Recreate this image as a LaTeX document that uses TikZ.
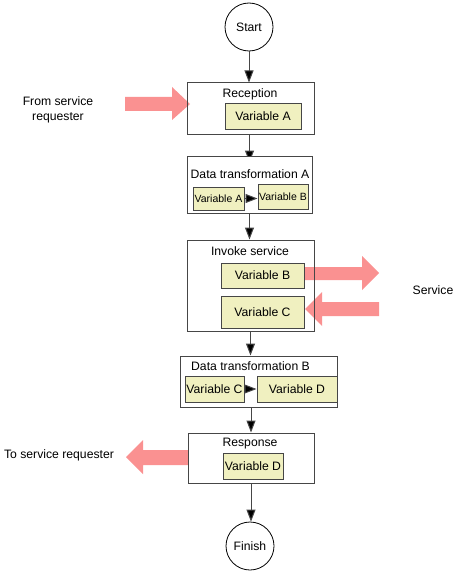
\documentclass[tikz,border=0pt]{standalone}
\usepackage{fontspec}
\setmainfont{Liberation Sans}
\usetikzlibrary{arrows.meta,backgrounds}
\definecolor{pinkarrow}{RGB}{250,145,145}
\definecolor{varfill}{RGB}{240,240,192}
\definecolor{linegray}{RGB}{70,70,70}
\tikzset{
  every node/.style={font=\fontsize{12.2}{14}\selectfont, inner sep=0pt},
  outerbox/.style={draw=linegray, line width=1pt, fill=white},
  varbox/.style={draw=linegray, line width=1pt, fill=varfill},
  smallvar/.style={varbox, font=\fontsize{10.5}{12}\selectfont},
  termcircle/.style={circle, draw=black, line width=0.8pt, fill=white, minimum size=48pt},
  conn/.style={draw=linegray, line width=1pt, -{Triangle[width=9pt,length=12pt,fill=black]}},
  bigarrow/.style={fill=pinkarrow, draw=none},
}
\begin{document}
\begin{tikzpicture}[x=1pt,y=-1pt]
\useasboundingbox (0,0) rectangle (457,575);

% red arrows
\fill[bigarrow] (125,97) -- (172,97) -- (172,87) -- (190,104) -- (172,120) -- (172,111) -- (125,111) -- cycle;
\fill[bigarrow] (304,267) -- (362,267) -- (362,256) -- (379,273) -- (362,290) -- (362,280) -- (304,280) -- cycle;
\fill[bigarrow] (379,302) -- (322,302) -- (322,292) -- (305,309) -- (322,326) -- (322,316) -- (379,316) -- cycle;
\fill[bigarrow] (188,450) -- (143,450) -- (143,440) -- (126,457) -- (143,474) -- (143,465) -- (188,465) -- cycle;

% terminals
\node[termcircle] (start) at (249,27) {Start};
\node[termcircle] (finish) at (250,546) {Finish};

% Reception
\node[draw=linegray, line width=1pt, minimum width=127pt, minimum height=51pt] (rec) at (250.5,108.5) {};
\node (rectitle) at (250,94) {Reception};
\node[varbox, minimum width=76pt, minimum height=25pt] (varA1) at (263,116.5) {Variable A};

% Data transformation A
\node[outerbox, minimum width=125pt, minimum height=57pt] (dta) at (249.5,184.5) {};
\node (dtatitle) at (250,174) {Data transformation A};
\node[smallvar, minimum width=51pt, minimum height=23pt] (varA2) at (218.5,198.5) {Variable A};
\node[smallvar, minimum width=50pt, minimum height=25pt] (varB2) at (283,196.5) {Variable B};

% Invoke service
\node[draw=linegray, line width=1pt, minimum width=127pt, minimum height=91pt] (inv) at (250.5,285.5) {};
\node (invtitle) at (250,251) {Invoke service};
\node[varbox, minimum width=83pt, minimum height=25pt] (varB3) at (262.5,275.5) {Variable B};
\node[varbox, minimum width=83pt, minimum height=32pt] (varC3) at (262.5,312) {Variable C};

% Data transformation B
\node[outerbox, minimum width=157pt, minimum height=51pt] (dtb) at (258.5,381.5) {};
\node (dtbtitle) at (250.5,366) {Data transformation B};
\node[varbox, minimum width=59pt, minimum height=26pt] (varC4) at (214.5,389) {Variable C};
\node[varbox, minimum width=80pt, minimum height=26pt] (varD4) at (297,389) {Variable D};

% Response
\node[draw=linegray, line width=1pt, minimum width=126pt, minimum height=50pt] (resp) at (251,458) {};
\node (resptitle) at (250,444) {Response};
\node[varbox, minimum width=60pt, minimum height=26pt] (varD5) at (253,466) {Variable D};

% side labels
\node[align=center, font=\fontsize{12.2}{15}\selectfont] (fromreq) at (58,110) {From service\\requester};
\node (service) at (433,290) {Service};
\node (toreq) at (59,455) {To service requester};

% connectors
\draw[conn] (start.south) -- (start.south |- rec.north);
\begin{scope}[on background layer]
\draw[conn] (rec.south -| dta.north) -- ([yshift=-7pt]dta.north);
\end{scope}
\draw[conn] (dta.south) -- (dta.south |- inv.north);
\draw[conn] (inv.south) -- (inv.south |- dtb.north);
\draw[conn] (resp.north |- dtb.south) -- (resp.north);
\draw[conn] (resp.south) -- (resp.south |- finish.north);
\draw[conn] (varA2.east) -- (varA2.east -| varB2.west);
\draw[conn] (varC4.east) -- (varD4.west);
\end{tikzpicture}
\end{document}
